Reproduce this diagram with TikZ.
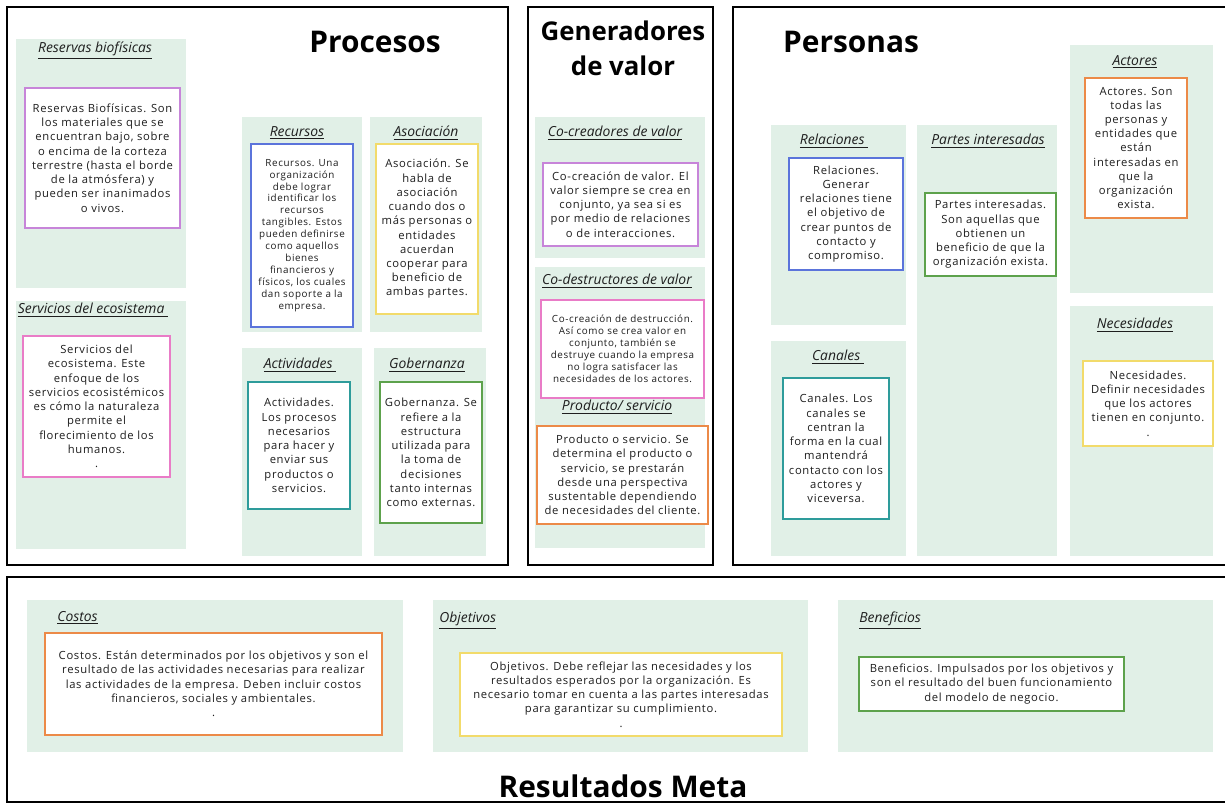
\documentclass[tikz,border=0pt]{standalone}
\usepackage{fontspec}
\setmainfont{Open Sans}
\newfontfamily\cardfont[LetterSpace=6]{Open Sans}
\usetikzlibrary{positioning}
\definecolor{panelgreen}{HTML}{E1F0E7}
\definecolor{cardpurple}{HTML}{C785D9}
\definecolor{cardpink}{HTML}{E97CC7}
\definecolor{cardblue}{HTML}{5B74DB}
\definecolor{cardyellow}{HTML}{F2DB6B}
\definecolor{cardteal}{HTML}{2E9C9B}
\definecolor{cardgreen}{HTML}{5DA24C}
\definecolor{cardorange}{HTML}{EC8A48}
\definecolor{inkgray}{HTML}{1E1E1E}

\begin{document}
\begin{tikzpicture}[
  x=0.02cm, y=-0.02cm,
  frame/.style={draw=black, line width=1.3pt},
  panel/.style={fill=panelgreen, anchor=north west, inner sep=0pt},
  card/.style={draw=#1, fill=white, line width=1.4pt, align=center,
               inner sep=0pt, text=inkgray,
               font=\cardfont\fontsize{6.4}{8.1}\selectfont},
  smallcard/.style={card=#1, font=\cardfont\fontsize{5.6}{6.8}\selectfont},
  hdr/.style={font=\itshape\fontsize{7.9}{9}\selectfont, text=inkgray, inner sep=0pt},
  bigtitle/.style={font=\bfseries\fontsize{17}{20}\selectfont, align=center, inner sep=0pt}
]
  \fill[white] (0,0) rectangle (1225,804);
  \useasboundingbox (0,0) rectangle (1225,804);

  %% outer frames
  \draw[frame] (7,7) rectangle (508,565);
  \draw[frame] (528,7) rectangle (713,565);
  \draw[frame] (1225,7) -- (733,7) -- (733,565) -- (1225,565);
  \draw[frame] (1225,577) -- (7,577) -- (7,802) -- (1225,802);

  \node[bigtitle] (procesos) at (375,42) {Procesos};
  \node[bigtitle, font=\bfseries\fontsize{14.7}{19.8}\selectfont] (generadores) at (623,48) {Generadores\\de valor};
  \node[bigtitle] (personas) at (851,42) {Personas};
  \node[bigtitle] (resultados) at (623,786) {Resultados Meta};

  %% Procesos
  \node[panel, minimum width=3.4cm, minimum height=4.98cm] (pRes) at (16,39) {};
  \node[panel, minimum width=3.4cm, minimum height=4.96cm] (pSer) at (16,301) {};
  \node[panel, minimum width=2.4cm, minimum height=4.3cm] (pRec) at (242,117) {};
  \node[panel, minimum width=2.24cm, minimum height=4.3cm] (pAso) at (370,117) {};
  \node[panel, minimum width=2.4cm, minimum height=4.16cm] (pAct) at (242,348) {};
  \node[panel, minimum width=2.24cm, minimum height=4.16cm] (pGob) at (374,348) {};

  \node[hdr] (tRes) at (95,51) {\underline{Reservas biofísicas}};
  \node[hdr] (tSer) at (93,310) {\underline{Servicios del ecosistema\ }};
  \node[hdr] (tRec) at (297,133) {\underline{Recursos}};
  \node[hdr] (tAso) at (426,133) {\underline{Asociación}};
  \node[hdr] (tAct) at (300,365) {\underline{Actividades\ }};
  \node[hdr] (tGob) at (427,365) {\underline{Gobernanza}};

  \node[card=cardpurple, minimum width=3.1cm, minimum height=2.8cm] (cRes) at (102.5,158)
    {Reservas Biofísicas. Son\\los materiales que se\\encuentran bajo, sobre\\o encima de la corteza\\terrestre (hasta el borde\\de la atmósfera) y\\pueden ser inanimados\\o vivos.};
  \node[card=cardpink, minimum width=2.94cm, minimum height=2.82cm] (cSer) at (96.5,406.5)
    {Servicios del\\ecosistema. Este\\enfoque de los\\servicios ecosistémicos\\es cómo la naturaleza\\permite el\\florecimiento de los\\humanos.\\.};
  \node[smallcard=cardblue, minimum width=2.04cm, minimum height=3.66cm] (cRec) at (302,235.5)
    {Recursos. Una\\organización\\debe lograr\\identificar los\\recursos\\tangibles. Estos\\pueden definirse\\como aquellos\\bienes\\financieros y\\físicos, los cuales\\dan soporte a la\\empresa.};
  \node[card=cardyellow, minimum width=2.04cm, minimum height=3.4cm] (cAso) at (427,229)
    {Asociación. Se\\habla de\\asociación\\cuando dos o\\más personas o\\entidades\\acuerdan\\cooperar para\\beneficio de\\ambas partes.};
  \node[card=cardteal, minimum width=2.04cm, minimum height=2.54cm] (cAct) at (299,445.5)
    {Actividades.\\Los procesos\\necesarios\\para hacer y\\enviar sus\\productos o\\servicios.};
  \node[card=cardgreen, minimum width=2.04cm, minimum height=2.82cm] (cGob) at (431,452.5)
    {Gobernanza. Se\\refiere a la\\estructura\\utilizada para\\la toma de\\decisiones\\tanto internas\\como externas.};

  %% Generadores de valor
  \node[panel, minimum width=3.4cm, minimum height=2.82cm] (pCoc) at (535,117) {};
  \node[panel, minimum width=3.4cm, minimum height=2.56cm] (pCod) at (535,267) {};
  \node[panel, minimum width=3.4cm, minimum height=3.06cm] (pPro) at (535,395) {};

  \node[hdr] (tCoc) at (615,133) {\underline{Co-creadores de valor}};
  \node[hdr] (tCod) at (617,281) {\underline{Co-destructores de valor}};
  \node[hdr] (tPro) at (617,407) {\underline{Producto/ servicio}};

  \node[card=cardpurple, minimum width=3.1cm, minimum height=1.66cm] (cCoc) at (620.5,204.5)
    {Co-creación de valor. El\\valor siempre se crea en\\conjunto, ya sea si es\\por medio de relaciones\\o de interacciones.};
  \node[smallcard=cardpink, minimum width=3.26cm, minimum height=1.96cm] (cCod) at (622.5,349)
    {Co-creación de destrucción.\\Así como se crea valor en\\conjunto, también se\\destruye cuando la empresa\\no logra satisfacer las\\necesidades de los actores.};
  \node[card=cardorange, minimum width=3.42cm, minimum height=1.96cm] (cPro) at (622.5,475)
    {Producto o servicio. Se\\determina el producto o\\servicio, se prestarán\\desde una perspectiva\\sustentable dependiendo\\de necesidades del cliente.};

  %% Personas
  \node[panel, minimum width=2.7cm, minimum height=4.0cm] (pRel) at (771,125) {};
  \node[panel, minimum width=2.8cm, minimum height=8.62cm] (pPar) at (917,125) {};
  \node[panel, minimum width=2.7cm, minimum height=4.3cm] (pCan) at (771,341) {};
  \node[panel, minimum width=2.86cm, minimum height=4.96cm] (pAcr) at (1070,45) {};
  \node[panel, minimum width=2.86cm, minimum height=5.0cm] (pNec) at (1070,306) {};

  \node[hdr] (tRel) at (834,141) {\underline{Relaciones\ }};
  \node[hdr] (tPar) at (988,141) {\underline{Partes interesadas}};
  \node[hdr] (tCan) at (838,357) {\underline{Canales\ }};
  \node[hdr] (tAcr) at (1135,62) {\underline{Actores}};
  \node[hdr] (tNec) at (1135,325) {\underline{Necesidades}};

  \node[card=cardblue, minimum width=2.28cm, minimum height=2.24cm] (cRel) at (846,214)
    {Relaciones.\\Generar\\relaciones tiene\\el objetivo de\\crear puntos de\\contacto y\\compromiso.};
  \node[card=cardgreen, minimum width=2.62cm, minimum height=1.66cm] (cPar) at (990.5,234.5)
    {Partes interesadas.\\Son aquellas que\\obtienen un\\beneficio de que la\\organización exista.};
  \node[card=cardteal, minimum width=2.12cm, minimum height=2.82cm] (cCan) at (836,448.5)
    {Canales. Los\\canales se\\centran la\\forma en la cual\\mantendrá\\contacto con los\\actores y\\viceversa.};
  \node[card=cardorange, minimum width=2.04cm, minimum height=2.8cm] (cAcr) at (1136,148)
    {Actores. Son\\todas las\\personas y\\entidades que\\están\\interesadas en\\que la\\organización\\exista.};
  \node[card=cardyellow, minimum width=2.6cm, minimum height=1.7cm] (cNec) at (1148,403.5)
    {Necesidades.\\Definir necesidades\\que los actores\\tienen en conjunto.\\.};

  %% Resultados Meta
  \node[panel, minimum width=7.52cm, minimum height=3.04cm] (pCos) at (27,600) {};
  \node[panel, minimum width=7.5cm, minimum height=3.04cm] (pObj) at (433,600) {};
  \node[panel, minimum width=7.5cm, minimum height=3.04cm] (pBen) at (838,600) {};

  \node[hdr, anchor=west] (tCos) at (57,618) {\underline{Costos}};
  \node[hdr, anchor=west] (tObj) at (439,621) {\underline{Objetivos}};
  \node[hdr, anchor=west] (tBen) at (859,621) {\underline{Beneficios}};

  \node[card=cardorange, minimum width=6.74cm, minimum height=2.04cm] (cCos) at (213.5,684)
    {Costos. Están determinados por los objetivos y son el\\resultado de las actividades necesarias para realizar\\las actividades de la empresa. Deben incluir costos\\financieros, sociales y ambientales.\\.};
  \node[card=cardyellow, minimum width=6.44cm, minimum height=1.66cm] (cObj) at (621,694.5)
    {Objetivos. Debe reflejar las necesidades y los\\resultados esperados por la organización. Es\\necesario tomar en cuenta a las partes interesadas\\para garantizar su cumplimiento.\\.};
  \node[card=cardgreen, minimum width=5.3cm, minimum height=1.08cm] (cBen) at (991.5,684)
    {Beneficios. Impulsados por los objetivos y\\son el resultado del buen funcionamiento\\del modelo de negocio.};
\end{tikzpicture}
\end{document}
